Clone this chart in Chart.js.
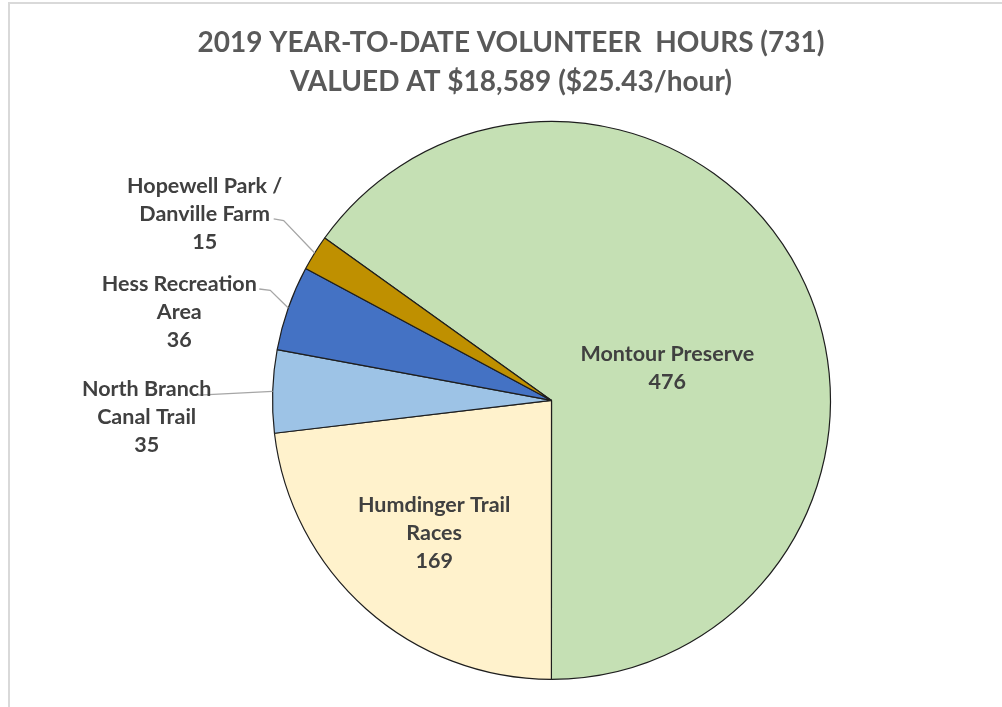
<!DOCTYPE html>
<html>
<head>
<meta charset="utf-8">
<title>2019 Volunteer Hours</title>
<script src="https://cdn.jsdelivr.net/npm/chart.js@4/dist/chart.umd.min.js"></script>
<style>
  body { margin: 0; background: #fff; overflow: hidden; }
  .frame {
    position: absolute; left: 8px; top: 2px; width: 1100px; height: 800px;
    border: 2px solid #d9d9d9;
  }
  #chart { position: absolute; left: 0; top: 0; }
</style>
</head>
<body>
<div class="frame"></div>
<canvas id="chart" width="1002" height="707"></canvas>
<script>
// Volunteer hours by site (2019 year-to-date)
const sites = [
  ['Montour Preserve'],
  ['Humdinger Trail', 'Races'],
  ['North Branch', 'Canal Trail'],
  ['Hess Recreation', 'Area'],
  ['Hopewell Park /', 'Danville Farm']
];
const hours = [476, 169, 35, 36, 15];
const sliceColors = ['#C5E0B4', '#FFF2CC', '#9DC3E6', '#4472C4', '#BF9000'];
const titleLines = [
  '2019 YEAR-TO-DATE VOLUNTEER  HOURS (731)',
  'VALUED AT $18,589 ($25.43/hour)'
];

// where each data label sits (inside: along the slice, outside: offset from the rim)
const labelPlacement = [
  { inside: true, radius: 0.432, turn: 11.1 },
  { inside: true, radius: 0.633, turn: 0 },
  { dx: -126, dy: 25, leader: [[47, -21]] },
  { dx: -109, dy: 3, leader: [[80, -22], [91, -20.6]] },
  { dx: -110, dy: -40, leader: [[69, 6], [79, 7.7]] }
];

const LABEL_FONT = 'bold 21.5px Lato';
const LABEL_LINE = 28;

// title is centred on the whole frame, not over the pie
const titleShift = {
  id: 'titleShift',
  afterLayout(chart) {
    const t = chart.titleBlock;
    if (t) {
      t.left -= 40.5;
      t.right -= 40.5;
    }
  }
};

const sliceLabels = {
  id: 'sliceLabels',
  afterDatasetsDraw(chart) {
    const ctx = chart.ctx;
    const meta = chart.getDatasetMeta(0);
    ctx.save();
    ctx.font = LABEL_FONT;
    ctx.textAlign = 'center';
    ctx.textBaseline = 'alphabetic';

    meta.data.forEach((arc, i) => {
      const { x, y, startAngle, endAngle, outerRadius } =
        arc.getProps(['x', 'y', 'startAngle', 'endAngle', 'outerRadius'], true);
      const mid = (startAngle + endAngle) / 2;
      const place = labelPlacement[i];
      const lines = sites[i].concat(String(hours[i]));
      let cx, cy;

      if (place.inside) {
        const a = mid + place.turn * Math.PI / 180;
        cx = x + Math.cos(a) * outerRadius * place.radius;
        cy = y + Math.sin(a) * outerRadius * place.radius;
      } else {
        const rimX = x + Math.cos(mid) * outerRadius;
        const rimY = y + Math.sin(mid) * outerRadius;
        cx = rimX + place.dx;
        cy = rimY + place.dy;

        // leader line from the label to the rim
        ctx.strokeStyle = '#a6a6a6';
        ctx.lineWidth = 1.3;
        ctx.beginPath();
        place.leader.forEach((p, k) => {
          if (k === 0) ctx.moveTo(cx + p[0], cy + p[1]);
          else ctx.lineTo(cx + p[0], cy + p[1]);
        });
        ctx.lineTo(rimX, rimY);
        ctx.stroke();
      }

      ctx.fillStyle = '#404040';
      const top = cy - (lines.length - 1) * LABEL_LINE / 2;
      lines.forEach((line, k) => {
        ctx.fillText(line, cx, top + k * LABEL_LINE + 7.8);
      });
    });
    ctx.restore();
  }
};

new Chart(document.getElementById('chart'), {
  type: 'pie',
  data: {
    labels: sites,
    datasets: [{
      data: hours,
      backgroundColor: sliceColors,
      borderColor: '#1e1e1e',
      borderWidth: 1.2
    }]
  },
  options: {
    responsive: false,
    animation: false,
    rotation: -54.4,
    layout: {
      padding: { left: 101, right: 0, top: 0, bottom: 27 }
    },
    plugins: {
      legend: { display: false },
      tooltip: { enabled: false },
      title: {
        display: true,
        text: titleLines,
        color: '#595959',
        font: { family: 'Lato', size: 28, weight: 'bold', lineHeight: 1.39 },
        padding: { top: 23.5, bottom: 19.5 }
      }
    }
  },
  plugins: [titleShift, sliceLabels]
});
</script>
</body>
</html>
